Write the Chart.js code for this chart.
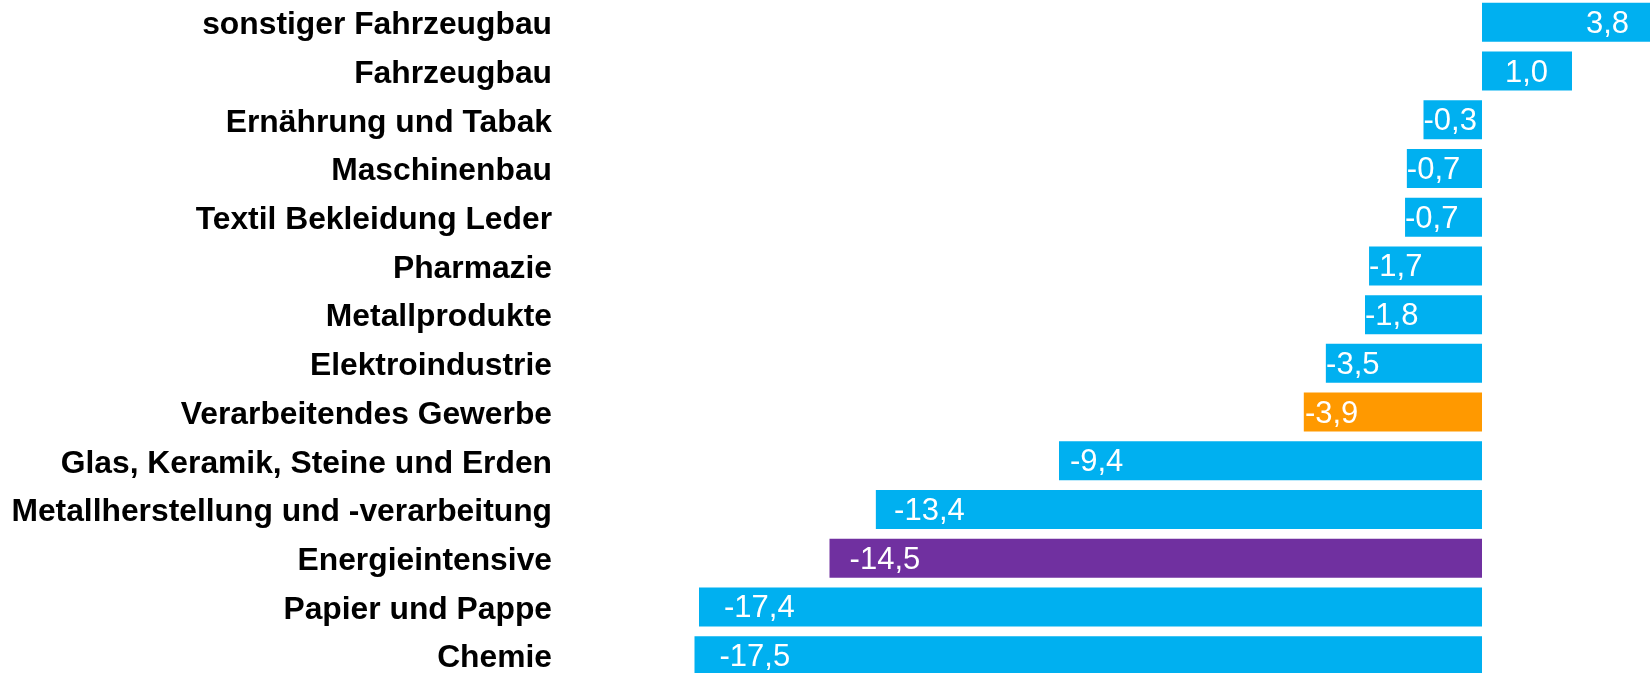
<!DOCTYPE html>
<html>
<head>
<meta charset="utf-8">
<script src="https://cdn.jsdelivr.net/npm/chart.js@4/dist/chart.umd.min.js"></script>
<style>
    html, body { margin: 0; padding: 0; background: #fff; overflow: hidden; width: 1650px; height: 673px; }
    .chart-box { position: absolute; left: 0; top: -2px; width: 1662px; height: 682px; }
</style>
</head>
<body>
<div class="chart-box"><canvas id="chart-branchen"></canvas></div>
<script>
// Branches, top to bottom
const categories = [
    'sonstiger Fahrzeugbau',
    'Fahrzeugbau',
    'Ernährung und Tabak',
    'Maschinenbau',
    'Textil Bekleidung Leder',
    'Pharmazie',
    'Metallprodukte',
    'Elektroindustrie',
    'Verarbeitendes Gewerbe',
    'Glas, Keramik, Steine und Erden',
    'Metallherstellung und -verarbeitung',
    'Energieintensive',
    'Papier und Pappe',
    'Chemie'
];

// values as printed on the bars
const printedValues = [3.8, 1.0, -0.3, -0.7, -0.7, -1.7, -1.8, -3.5, -3.9, -9.4, -13.4, -14.5, -17.4, -17.5];

// bar lengths as drawn in the source (short bars are stretched there, so they differ from the labels)
const drawnValues = [3.8, 2.0, -1.3, -1.67, -1.71, -2.51, -2.6, -3.47, -3.96, -9.4, -13.47, -14.5, -17.4, -17.5];

const colors = {
    blue: '#00b0f0',
    orange: '#ff9900',
    purple: '#7030a0'
};

const barColor = (name) => {
    if (name === 'Verarbeitendes Gewerbe') return colors.orange;
    if (name === 'Energieintensive') return colors.purple;
    return colors.blue;
};

const fmt = v => v.toFixed(1).replace('.', ',');

// white value labels inside the bars
const valueLabels = {
    id: 'valueLabels',
    afterDatasetsDraw(chart) {
        const ctx = chart.ctx;
        const meta = chart.getDatasetMeta(0);
        ctx.save();
        ctx.fillStyle = '#fff';
        ctx.font = '31px "Liberation Sans", Arial, sans-serif';
        ctx.textBaseline = 'middle';
        meta.data.forEach((bar, i) => {
            const v = printedValues[i];
            const y = bar.y + 2;
            if (v >= 0) {
                ctx.textAlign = 'right';
                ctx.fillText(fmt(v), bar.x - 24, y);
            } else {
                const len = bar.base - bar.x;
                const pad = Math.max(0, Math.min(25, (len - 150) * 0.04));
                ctx.textAlign = 'left';
                ctx.fillText(fmt(v), bar.x + pad, y);
            }
        });
        ctx.restore();
    }
};

new Chart(document.getElementById('chart-branchen'), {
    type: 'bar',
    data: {
        labels: categories,
        datasets: [{
            data: drawnValues,
            backgroundColor: categories.map(barColor),
            borderWidth: 0,
            barPercentage: 0.8,
            categoryPercentage: 1.0
        }]
    },
    options: {
        indexAxis: 'y',
        responsive: true,
        maintainAspectRatio: false,
        animation: false,
        layout: { padding: 0 },
        scales: {
            x: {
                display: false,
                min: -20,
                max: 4
            },
            y: {
                // fixed label column, no extra space above/below the bars
                afterFit: s => {
                    s.width = 582;
                    s.paddingTop = 0;
                    s.paddingBottom = 0;
                },
                grid: { display: false, drawTicks: false },
                border: { display: false },
                ticks: {
                    padding: 30,
                    labelOffset: 3,
                    color: '#000',
                    font: { family: '"Liberation Sans", Arial, sans-serif', size: 31.8, weight: 'bold' }
                }
            }
        },
        plugins: {
            legend: { display: false },
            tooltip: { enabled: false }
        }
    },
    plugins: [valueLabels]
});
</script>
</body>
</html>
